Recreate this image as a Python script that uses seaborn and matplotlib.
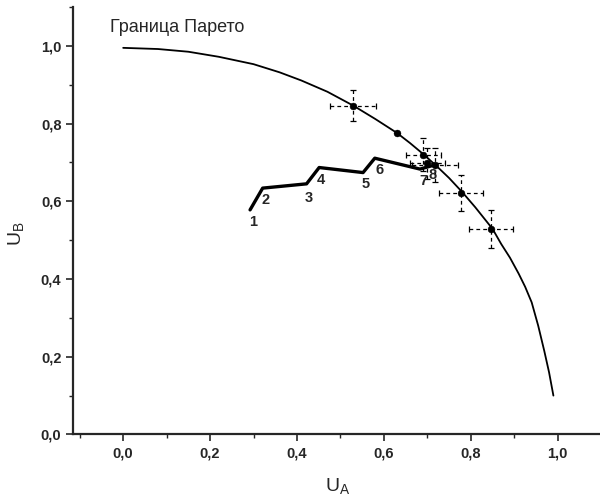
import matplotlib
matplotlib.use("Agg")
import matplotlib.pyplot as plt
import seaborn as sns
import pandas as pd
from matplotlib.ticker import MultipleLocator, FuncFormatter

# Pareto boundary
pareto_x = [0.0, 0.08, 0.15, 0.22, 0.30, 0.36, 0.41, 0.47, 0.53, 0.58, 0.63, 0.66, 0.69, 0.72,
            0.75, 0.78, 0.81, 0.85, 0.87, 0.89, 0.91, 0.925, 0.94, 0.955, 0.969, 0.98, 0.99]
pareto_y = [0.995, 0.992, 0.985, 0.972, 0.953, 0.932, 0.911, 0.882, 0.846, 0.812, 0.776, 0.750, 0.722, 0.692,
            0.660, 0.624, 0.585, 0.529, 0.490, 0.455, 0.414, 0.380, 0.340, 0.280, 0.215, 0.160, 0.100]

# measured points on the boundary with error bars
pt_x = [0.528, 0.629, 0.691, 0.700, 0.717, 0.777, 0.846]
pt_y = [0.846, 0.776, 0.720, 0.698, 0.694, 0.621, 0.529]
pt_xerr = [0.053, 0.0, 0.040, 0.040, 0.053, 0.051, 0.050]
pt_yerr = [0.040, 0.0, 0.043, 0.040, 0.043, 0.047, 0.048]

# trajectory 1..8
traj_labels = ["1", "2", "3", "4", "5", "6", "7", "8"]
traj_x = [0.292, 0.321, 0.422, 0.451, 0.552, 0.579, 0.683, 0.718]
traj_y = [0.578, 0.634, 0.645, 0.687, 0.674, 0.711, 0.683, 0.694]

x_ticks = [0.0, 0.2, 0.4, 0.6, 0.8, 1.0]
y_ticks = [0.0, 0.2, 0.4, 0.6, 0.8, 1.0]

sns.set_style("ticks")
plt.rcParams['font.family'] = ['Liberation Sans', 'DejaVu Sans']

fig = plt.figure(figsize=(6.0, 5.04), dpi=100)
ax = fig.add_axes([0.122, 0.138, 0.880, 0.848])

df_p = pd.DataFrame({"x": pareto_x, "y": pareto_y})
sns.lineplot(data=df_p, x="x", y="y", sort=False, estimator=None, color="black", lw=1.3, ax=ax)

df_t = pd.DataFrame({"x": traj_x, "y": traj_y})
sns.lineplot(data=df_t, x="x", y="y", sort=False, estimator=None, color="black", lw=2.4, ax=ax)

eb = ax.errorbar(pt_x, pt_y, xerr=pt_xerr, yerr=pt_yerr, fmt='none', ecolor="black",
                 elinewidth=0.9, capsize=2.5, capthick=0.9)
for lc in eb[2]:
    lc.set_linestyle((0, (3, 2.5)))

df_pt = pd.DataFrame({"x": pt_x, "y": pt_y})
sns.scatterplot(data=df_pt, x="x", y="y", color="black", s=24, edgecolor="black", ax=ax, zorder=5)

offsets = [(3, -12), (3, -12), (2, -14), (2, -12), (3, -11), (5, -12), (3, -12), (-3, -10)]
for lab, xx, yy, off in zip(traj_labels, traj_x, traj_y, offsets):
    ax.annotate(lab, (xx, yy), xytext=(off[0] * 0.72, off[1] * 0.72), textcoords="offset points",
                ha="center", va="center", fontsize=10.5, fontweight="bold")

fig.text(110 / 600, 1 - 28 / 504, "Граница Парето", fontsize=13, va="center", ha="left")

ax.set_xlim(-0.115, 1.1)
ax.set_ylim(0.0, 1.1)
ax.set_xticks(x_ticks)
ax.set_yticks(y_ticks)
ax.xaxis.set_minor_locator(MultipleLocator(0.1))
ax.yaxis.set_minor_locator(MultipleLocator(0.1))
fmt = FuncFormatter(lambda v, p: f"{v:.1f}".replace(".", ","))
ax.xaxis.set_major_formatter(fmt)
ax.yaxis.set_major_formatter(fmt)
ax.tick_params(which="major", length=5, width=1.2, labelsize=10.5, direction="out")
ax.tick_params(which="minor", length=3, width=1.0, direction="out")
for lbl in ax.get_xticklabels() + ax.get_yticklabels():
    lbl.set_fontweight("bold")

ax.set_xlabel("U$_\\mathregular{A}$", fontsize=14)
ax.set_ylabel("U$_\\mathregular{B}$", fontsize=14)
ax.xaxis.set_label_coords(0.50, -0.10)
ax.yaxis.set_label_coords(-0.087, 0.47)

sns.despine(ax=ax)
for s in ["left", "bottom"]:
    ax.spines[s].set_linewidth(1.6)

fig.savefig("out.png", dpi=100)
